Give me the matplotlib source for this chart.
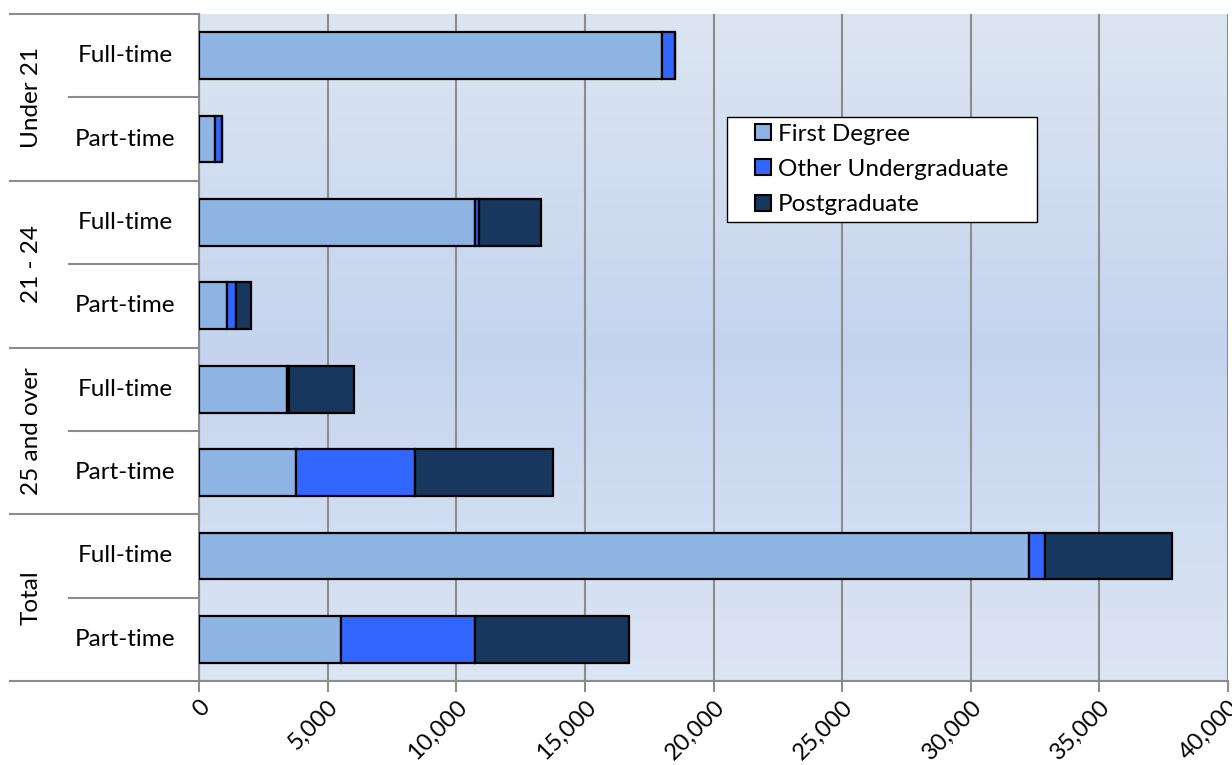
import numpy as np
import matplotlib
matplotlib.use("Agg")
import matplotlib.pyplot as plt
from matplotlib.colors import LinearSegmentedColormap
from matplotlib.ticker import FuncFormatter
from matplotlib.lines import Line2D

# ---- data ----
groups = ["Under 21", "21 - 24", "25 and over", "Total"]
row_labels = ["Full-time", "Part-time"] * 4
series_names = ["First Degree", "Other Undergraduate", "Postgraduate"]
first_degree = [18010, 620, 10740, 1100, 3435, 3770, 32280, 5530]
other_undergrad = [480, 260, 145, 325, 60, 4630, 590, 5200]
postgraduate = [0, 0, 2410, 615, 2545, 5375, 4940, 5985]
xticks = [0, 5000, 10000, 15000, 20000, 25000, 30000, 35000, 40000]

colors = ["#8EB4E3", "#3366FF", "#17375E"]
FS = 17.5

plt.rcParams['font.family'] = ['Lato', 'DejaVu Sans']

fig = plt.figure(figsize=(12.32, 7.65), dpi=100)
ax = fig.add_axes([199/1232, 1-681/765, 1029/1232, 667/765])

# gradient background
cmap = LinearSegmentedColormap.from_list("bg", ["#DCE6F2", "#C5D4EE", "#DCE5F4"])
grad = np.linspace(0, 1, 256).reshape(-1, 1)
ax.imshow(grad, aspect='auto', cmap=cmap, extent=[0, 1, 0, 1],
          transform=ax.transAxes, zorder=0)

y = np.arange(len(row_labels))
left = np.zeros(len(y))
for vals, name, c in zip([first_degree, other_undergrad, postgraduate], series_names, colors):
    ax.barh(y, vals, left=left, height=0.56, color=c, edgecolor='black',
            linewidth=1.6, label=name, zorder=3)
    left = left + np.array(vals)

ax.set_xlim(0, 40000)
ax.set_ylim(len(y) - 0.5, -0.5)
ax.set_xticks(xticks)
ax.xaxis.set_major_formatter(FuncFormatter(lambda v, p: f"{int(v):,}"))
ax.grid(axis='x', color='#8C8C8C', linewidth=1.5, zorder=1)
ax.set_axisbelow(True)
for lab in ax.get_xticklabels():
    lab.set_rotation(45)
    lab.set_ha('right')
    lab.set_va('top')
    lab.set_rotation_mode('anchor')
    lab.set_fontsize(17)
ax.tick_params(axis='x', length=8, width=1.5, color='#8C8C8C', pad=3)
ax.set_yticks([])
for s in ['top', 'right']:
    ax.spines[s].set_visible(False)
for s in ['left', 'bottom']:
    ax.spines[s].set_color('#8C8C8C')
    ax.spines[s].set_linewidth(1.5)

# category table at left
tr = ax.get_yaxis_transform()
x_outer = (10 - 199) / 1029
x_inner = (69 - 199) / 1029
for b in np.arange(-0.5, len(y) + 0.5, 1.0):
    idx = int(b + 0.5)
    xs = x_outer if idx % 2 == 0 else x_inner
    ax.plot([xs, 0.0], [b, b], transform=tr, color='#8C8C8C', lw=1.5,
            clip_on=False, zorder=5)
x_row = (125 - 199) / 1029
for i, lab in enumerate(row_labels):
    ax.text(x_row, i, lab, transform=tr, ha='center', va='center', fontsize=FS)
x_grp = (31 - 199) / 1029
for g, name in enumerate(groups):
    ax.text(x_grp, 2 * g + 0.5, name, transform=tr, ha='center', va='center',
            rotation=90, fontsize=FS)

handles = [Line2D([], [], linestyle='none', marker='s', markersize=11,
                  markerfacecolor=c, markeredgecolor='black', markeredgewidth=1.5)
           for c in colors]
x0, x1 = 727/1232, 1037/1232
ytop = 1 - 117/765
leg = ax.legend(handles, series_names, loc='upper left',
                bbox_to_anchor=(x0, ytop - 0.2, x1 - x0, 0.2), mode='expand',
                bbox_transform=fig.transFigure, fontsize=FS, frameon=True,
                fancybox=False, edgecolor='black', framealpha=1,
                handlelength=2.4, handletextpad=-0.58,
                borderpad=0.28, labelspacing=0.58, borderaxespad=0)
leg.get_frame().set_linewidth(1.0)

fig.savefig("out.png", dpi=100)
